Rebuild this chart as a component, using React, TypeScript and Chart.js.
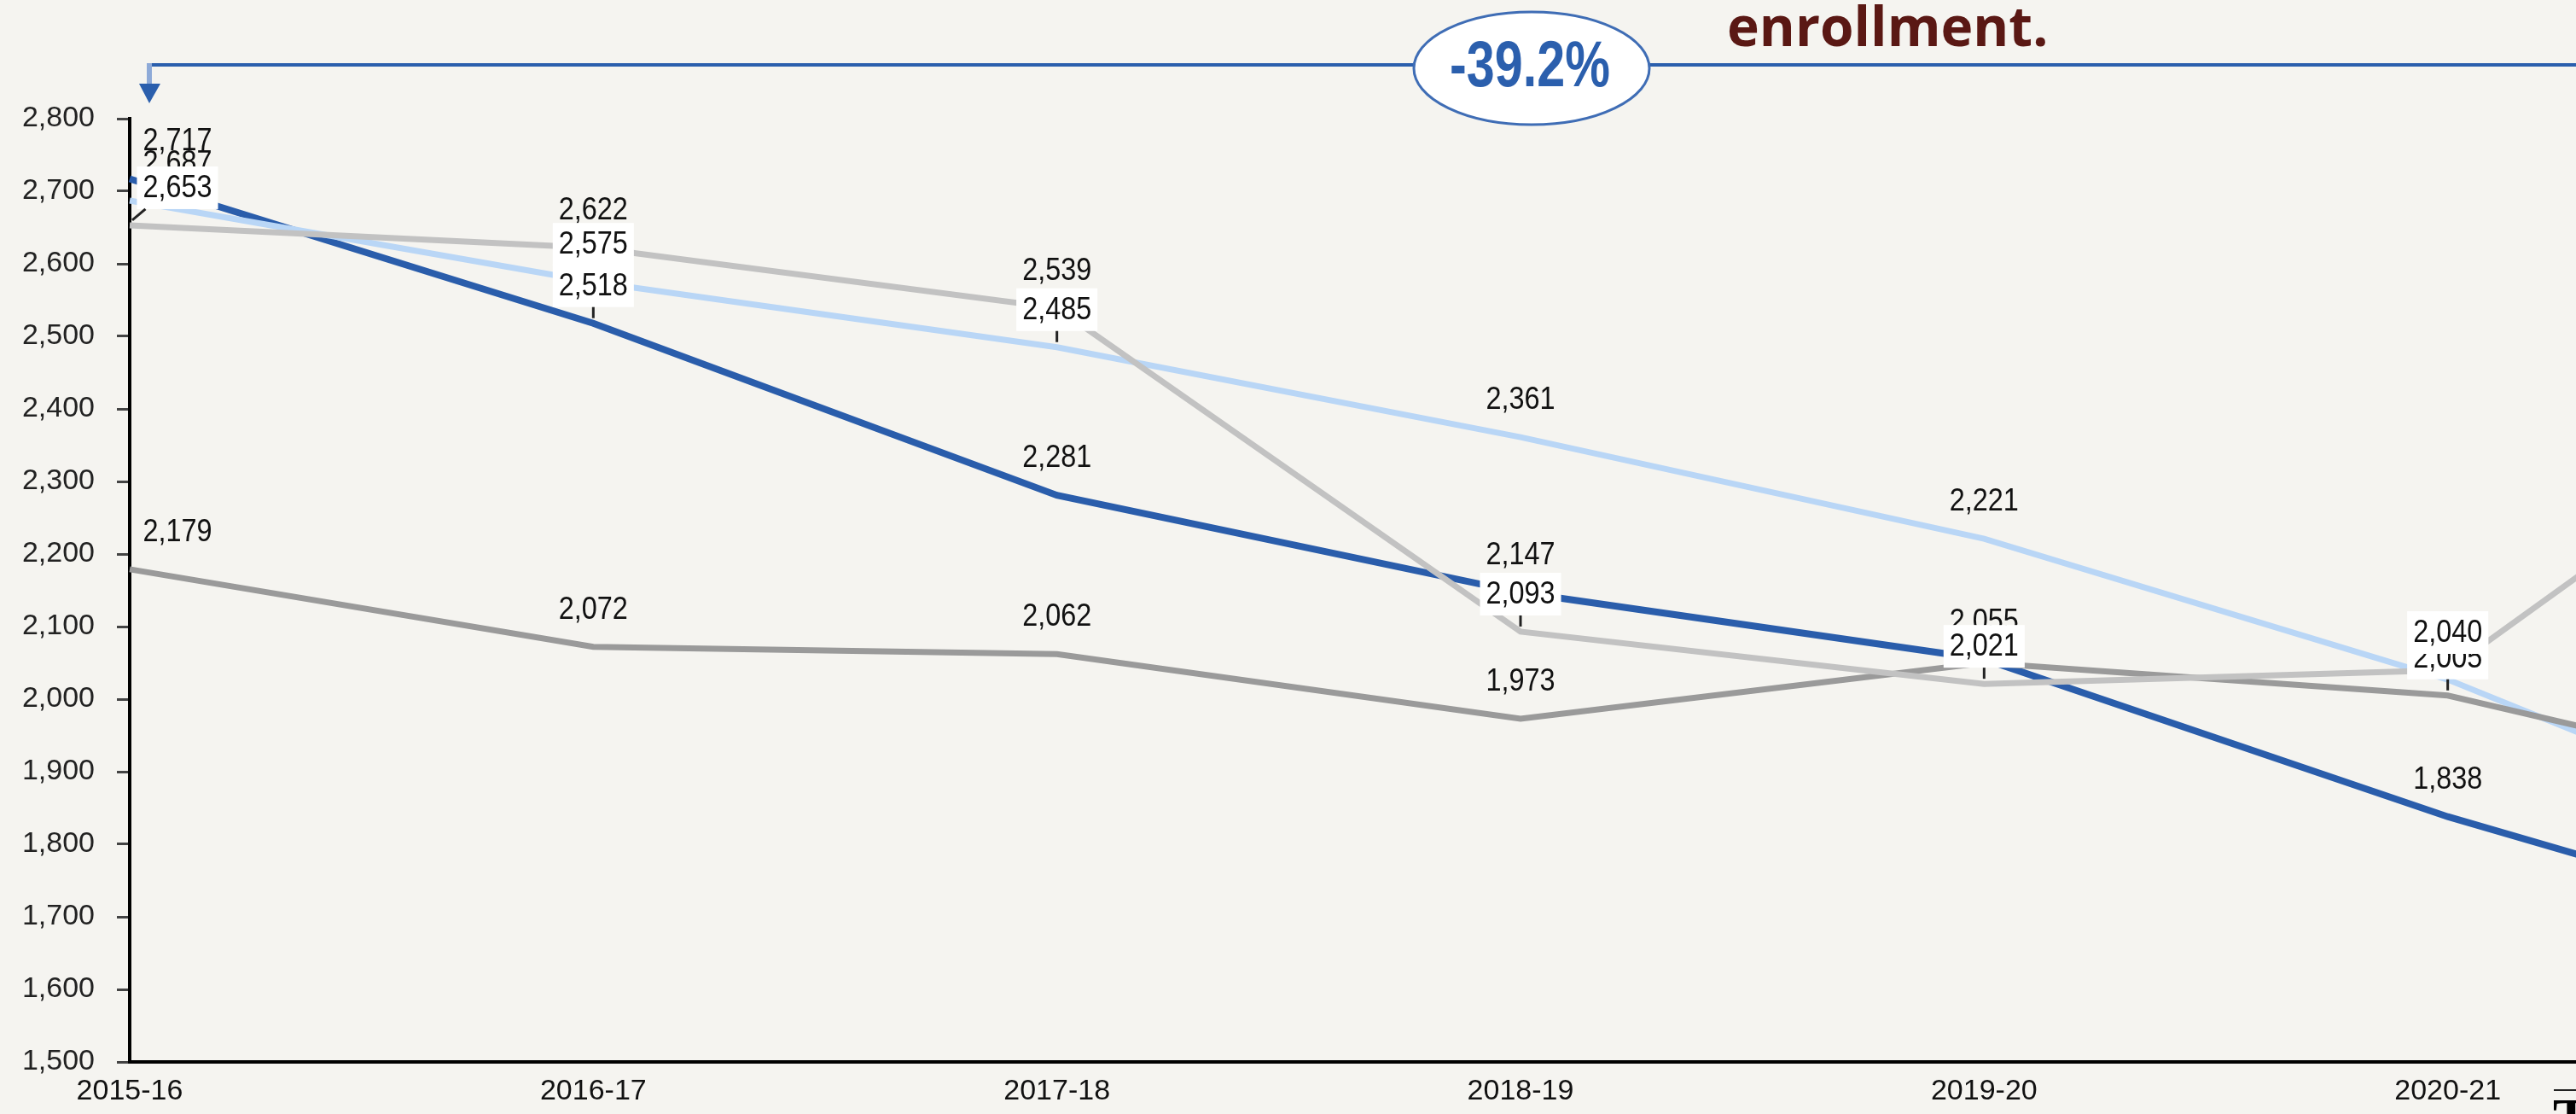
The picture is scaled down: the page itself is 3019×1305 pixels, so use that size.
import React, { useEffect, useRef } from 'react';
import { Chart, registerables } from 'chart.js';

Chart.register(...registerables);

// ---------- data ----------
const categories = ['2015-16', '2016-17', '2017-18', '2018-19', '2019-20', '2020-21', '2021-22'];
const darkBlueSeries = [2717, 2518, 2281, 2147, 2055, 1838, 1652];
const lightBlueSeries = [2687, 2575, 2485, 2361, 2221, 2027, 1768];
const lightGraySeries = [2653, 2622, 2539, 2093, 2021, 2040, 2500];
const midGraySeries = [2179, 2072, 2062, 1973, 2050, 2005, 1856];
const yMin = 1500;
const yMax = 2800;
const yStep = 100;
const changeText = '-39.2%';
const headlineText = 'enrollment.';

// dataset indices
const DB = 0, LB = 1, LG = 2, MG = 3;

// label drawing order: [dataset, index, shiftRight, whiteBox, leader]
const labelSpecs: [number, number, boolean, boolean, boolean][] = [
  [LB, 0, true, false, false],
  [DB, 0, true, false, false],
  [MG, 0, true, false, false],
  [LG, 0, true, true, true],
  [LG, 1, false, false, false],
  [LB, 1, false, true, false],
  [DB, 1, false, true, true],
  [MG, 1, false, false, false],
  [LG, 2, false, false, false],
  [LB, 2, false, true, true],
  [DB, 2, false, false, false],
  [MG, 2, false, false, false],
  [LB, 3, false, false, false],
  [DB, 3, false, false, false],
  [LG, 3, false, true, true],
  [MG, 3, false, false, false],
  [LB, 4, false, false, false],
  [DB, 4, false, false, false],
  [LG, 4, false, true, true],
  [MG, 5, false, true, true],
  [LG, 5, false, true, false],
  [DB, 5, false, false, false],
];

const SANS = '"Liberation Sans", Arial, sans-serif';
const CANVAS_W = 3492;
const CANVAS_H = 1305;
const fmt = (v: number) => v.toLocaleString('en-US');

const labelPlugin = {
  id: 'valueLabels',
  afterDatasetsDraw(chart: any) {
    const ctx = chart.ctx as CanvasRenderingContext2D;
    ctx.save();
    ctx.font = `36px ${SANS}`;
    ctx.textAlign = 'center';
    ctx.textBaseline = 'middle';
    const sx = 0.9;
    for (const [ds, i, shift, box, leader] of labelSpecs) {
      const pt = chart.getDatasetMeta(ds).data[i];
      const value = chart.data.datasets[ds].data[i] as number;
      const text = fmt(value);
      const cx = pt.x + (shift ? 56 : 0);
      const cy = pt.y - 44;
      const w = ctx.measureText(text).width * sx;
      const left = cx - w / 2 - 7;
      const right = cx + w / 2 + 7;
      if (box) {
        ctx.fillStyle = '#ffffff';
        ctx.fillRect(left, cy - 25, right - left, 50);
      }
      if (leader) {
        const lx = Math.min(Math.max(pt.x, left + 10), right - 10);
        ctx.strokeStyle = '#222';
        ctx.lineWidth = 3;
        ctx.beginPath();
        ctx.moveTo(lx, cy + 25);
        ctx.lineTo(pt.x + (shift ? 3 : 0), pt.y - 6);
        ctx.stroke();
      }
      ctx.save();
      ctx.translate(cx, cy + 1);
      ctx.scale(sx, 1);
      ctx.fillStyle = '#111';
      ctx.fillText(text, 0, 0);
      ctx.restore();
    }
    ctx.restore();
  },
};

const annotationPlugin = {
  id: 'annotations',
  afterDraw(chart: any) {
    const ctx = chart.ctx as CanvasRenderingContext2D;
    ctx.save();
    // bracket arrow line
    ctx.strokeStyle = '#2b5fad';
    ctx.lineWidth = 4;
    ctx.beginPath();
    ctx.moveTo(173, 76);
    ctx.lineTo(CANVAS_W, 76);
    ctx.stroke();
    ctx.strokeStyle = '#8eaad8';
    ctx.lineWidth = 6;
    ctx.beginPath();
    ctx.moveTo(175, 74);
    ctx.lineTo(175, 100);
    ctx.stroke();
    ctx.fillStyle = '#2b5fad';
    ctx.beginPath();
    ctx.moveTo(163, 98);
    ctx.lineTo(188, 98);
    ctx.lineTo(175, 121);
    ctx.closePath();
    ctx.fill();
    // ellipse with percent change
    ctx.beginPath();
    ctx.ellipse(1795, 80, 138, 66, 0, 0, Math.PI * 2);
    ctx.fillStyle = '#ffffff';
    ctx.fill();
    ctx.strokeStyle = '#3f6db5';
    ctx.lineWidth = 3;
    ctx.stroke();
    ctx.save();
    ctx.translate(1793, 80);
    ctx.scale(0.78, 1);
    ctx.fillStyle = '#2b5fad';
    ctx.font = `bold 76px ${SANS}`;
    ctx.textAlign = 'center';
    ctx.textBaseline = 'middle';
    ctx.fillText(changeText, 0, 0);
    ctx.restore();
    // headline fragment
    ctx.fillStyle = '#5a1814';
    ctx.font = 'bold 64px "Open Sans", sans-serif';
    ctx.textAlign = 'left';
    ctx.textBaseline = 'alphabetic';
    ctx.fillText(headlineText, 2024, 54);
    // cut-off glyph bottom right
    ctx.strokeStyle = '#222';
    ctx.lineWidth = 2;
    ctx.beginPath();
    ctx.moveTo(2993, 1277);
    ctx.lineTo(3019, 1277);
    ctx.stroke();
    ctx.fillStyle = '#000';
    ctx.font = 'bold 64px "Liberation Serif", serif';
    ctx.textBaseline = 'top';
    ctx.fillText('T', 2992, 1282);
    ctx.restore();
  },
};

export default function App() {
  const ref = useRef<HTMLCanvasElement | null>(null);

  useEffect(() => {
    document.body.style.margin = '0';
    document.body.style.background = '#f5f4f0';
    const canvas = ref.current;
    if (!canvas) return;
    const chart = new Chart(canvas, {
      type: 'line',
      data: {
        labels: categories,
        datasets: [
          { label: 'A', data: darkBlueSeries, borderColor: '#2a5dab', borderWidth: 8, pointRadius: 0, tension: 0, order: 4 },
          { label: 'B', data: lightBlueSeries, borderColor: '#b9d6f6', borderWidth: 7, pointRadius: 0, tension: 0, order: 3 },
          { label: 'C', data: lightGraySeries, borderColor: '#c2c2c2', borderWidth: 7, pointRadius: 0, tension: 0, order: 1 },
          { label: 'D', data: midGraySeries, borderColor: '#9a9a9a', borderWidth: 7, pointRadius: 0, tension: 0, order: 2 },
        ],
      },
      options: {
        animation: false,
        responsive: false,
        maintainAspectRatio: false,
        devicePixelRatio: 1,
        layout: { padding: { left: 0, top: 139, right: 80, bottom: 0 } },
        plugins: { legend: { display: false }, tooltip: { enabled: false }, title: { display: false } },
        scales: {
          x: {
            type: 'category',
            offset: false,
            afterFit: (s: any) => { s.height = 61; },
            grid: { display: true, drawOnChartArea: false, drawTicks: false, color: 'transparent' },
            border: { display: true, color: '#000', width: 4 },
            ticks: { color: '#111', font: { family: SANS, size: 34 }, padding: 14, maxRotation: 0, autoSkip: false },
          },
          y: {
            min: yMin,
            max: yMax,
            afterFit: (s: any) => { s.width = 152; },
            grid: { display: true, drawOnChartArea: false, drawTicks: true, tickLength: 15, tickColor: '#444', tickWidth: 3, color: 'transparent' },
            border: { display: true, color: '#000', width: 4 },
            ticks: {
              stepSize: yStep,
              color: '#222',
              padding: 26,
              font: { family: SANS, size: 34 },
              callback: (v: any) => fmt(Number(v)),
            },
          },
        },
      },
      plugins: [labelPlugin, annotationPlugin],
    });
    return () => chart.destroy();
  }, []);

  return (
    <div style={{ position: 'fixed', left: 0, top: 0, width: 3019, height: 1305, overflow: 'hidden', background: '#f5f4f0' }}>
      <canvas ref={ref} width={CANVAS_W} height={CANVAS_H} style={{ position: 'absolute', left: 0, top: 0, width: CANVAS_W, height: CANVAS_H }} />
    </div>
  );
}
